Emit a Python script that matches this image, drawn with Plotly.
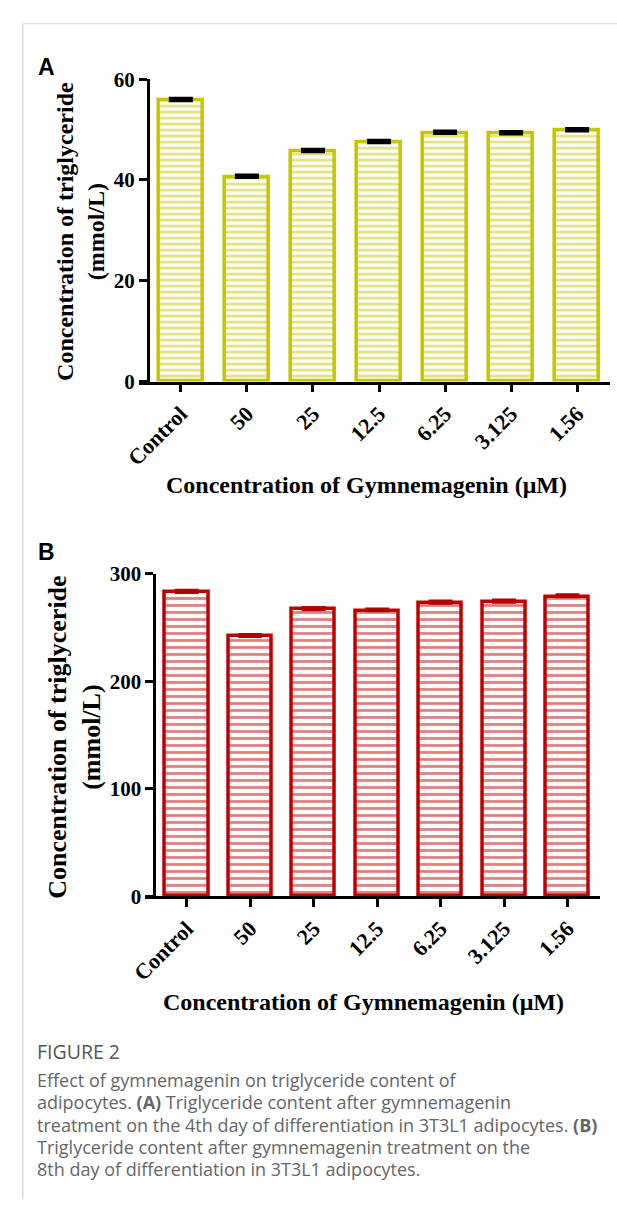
import plotly.graph_objects as go

W, H = 617, 1211

categories = ["Control", "50", "25", "12.5", "6.25", "3.125", "1.56"]
tg_day4 = [55.8, 40.6, 45.7, 47.5, 49.3, 49.2, 49.8]
tg_day4_err = [0.3, 0.3, 0.3, 0.3, 0.3, 0.3, 0.3]
tg_day8 = [283, 242, 267, 266, 273, 274, 279]
tg_day8_err = [1.5, 1.5, 1.5, 1.2, 1.5, 1.5, 1.5]

yticks_a = [0, 20, 40, 60]
yticks_b = [0, 100, 200, 300]

col_a = "#c8c400"
col_b = "#c00000"

def px(x):
    return x / W

def py(y):
    return 1 - y / H

fig = go.Figure()

xs = list(range(len(categories)))

fig.add_trace(go.Bar(
    x=xs, y=tg_day4, width=0.67,
    marker=dict(color="white", line=dict(color=col_a, width=3.5),
                pattern=dict(shape="-", fgcolor=col_a, bgcolor="white", size=6, solidity=0.45)),
    error_y=dict(type="data", array=tg_day4_err, arrayminus=[0]*7, symmetric=False,
                 color="black", thickness=4, width=12),
    xaxis="x", yaxis="y", showlegend=False))

fig.add_trace(go.Bar(
    x=xs, y=tg_day8, width=0.68,
    marker=dict(color="white", line=dict(color=col_b, width=3.5),
                pattern=dict(shape="-", fgcolor=col_b, bgcolor="white", size=7, solidity=0.4)),
    error_y=dict(type="data", array=tg_day8_err, arrayminus=[0]*7, symmetric=False,
                 color="#b00000", thickness=3.5, width=12),
    xaxis="x2", yaxis="y2", showlegend=False))

tickfont = dict(family="Liberation Serif", size=21, color="black", weight="bold")
xtickfont = dict(family="Liberation Serif", size=22, color="black", weight="bold")

axis_common = dict(showline=True, linecolor="black", linewidth=2.5, ticks="outside",
                   ticklen=8, tickwidth=2.5, tickcolor="black", showgrid=False, zeroline=False)

fig.update_layout(
    width=W, height=H, margin=dict(l=0, r=0, t=0, b=0),
    paper_bgcolor="white", plot_bgcolor="rgba(0,0,0,0)",
    bargap=0,
    xaxis=dict(domain=[px(127), px(610)], range=[-0.635, 6.5], anchor="y",
               tickvals=xs, ticktext=categories, tickangle=-45, tickfont=xtickfont, **axis_common),
    yaxis=dict(domain=[py(377), py(68.5)], range=[0, 60], anchor="free", position=px(136),
               tickvals=yticks_a, tickfont=tickfont, **axis_common),
    xaxis2=dict(domain=[px(133), px(600)], range=[-0.661, 6.518], anchor="y2",
                tickvals=xs, ticktext=categories, tickangle=-45, tickfont=xtickfont, **axis_common),
    yaxis2=dict(domain=[py(902.3), py(573.3)], range=[0, 300], anchor="free", position=px(142.7),
                tickvals=yticks_b, tickfont=tickfont, **axis_common),
)

ann = []
ann.append(dict(x=px(22), y=py(56), xref="paper", yref="paper", xanchor="left", yanchor="middle",
                text="<b>A</b>", showarrow=False, font=dict(family="Liberation Sans", size=23, color="black")))
ann.append(dict(x=px(22), y=py(551), xref="paper", yref="paper", xanchor="left", yanchor="middle",
                text="<b>B</b>", showarrow=False, font=dict(family="Liberation Sans", size=23, color="black")))
ann.append(dict(x=px(67), y=py(224), xref="paper", yref="paper", xanchor="center", yanchor="middle",
                text="<b>Concentration of triglyceride<br>(mmol/L)</b>", textangle=-90, showarrow=False,
                font=dict(family="Liberation Serif", size=24, color="black")))
ann.append(dict(x=px(61), y=py(740), xref="paper", yref="paper", xanchor="center", yanchor="middle",
                text="<b>Concentration of triglyceride<br>(mmol/L)</b>", textangle=-90, showarrow=False,
                font=dict(family="Liberation Serif", size=26, color="black")))
ann.append(dict(x=px(360), y=py(483), xref="paper", yref="paper", xanchor="center", yanchor="middle",
                text="<b>Concentration of Gymnemagenin (μM)</b>", showarrow=False,
                font=dict(family="Liberation Serif", size=24, color="black")))
ann.append(dict(x=px(357), y=py(1010), xref="paper", yref="paper", xanchor="center", yanchor="middle",
                text="<b>Concentration of Gymnemagenin (μM)</b>", showarrow=False,
                font=dict(family="Liberation Serif", size=24, color="black")))

cap_font = dict(family="Open Sans", size=18, color="#666666")
ann.append(dict(x=px(21), y=py(1061), xref="paper", yref="paper", xanchor="left", yanchor="middle",
                text="FIGURE 2", showarrow=False, font=dict(family="Open Sans", size=19.5, color="#555555")))
cap_lines = [
    "Effect of gymnemagenin on triglyceride content of",
    "adipocytes. <b>(A)</b> Triglyceride content after gymnemagenin",
    "treatment on the 4th day of differentiation in 3T3L1 adipocytes. <b>(B)</b>",
    "Triglyceride content after gymnemagenin treatment on the",
    "8th day of differentiation in 3T3L1 adipocytes.",
]
for i, line in enumerate(cap_lines):
    ann.append(dict(x=px(21), y=py(1090 + 22.5 * i), xref="paper", yref="paper", xanchor="left",
                    yanchor="middle", text=line, showarrow=False, font=cap_font))

fig.update_layout(annotations=ann)

fig.add_shape(type="line", xref="paper", yref="paper", x0=px(8), x1=1, y0=py(12), y1=py(12),
              line=dict(color="#d5d5d5", width=1.2))
fig.add_shape(type="line", xref="paper", yref="paper", x0=px(8), x1=px(8), y0=py(12), y1=0,
              line=dict(color="#d5d5d5", width=1.2))

fig.write_html("out.html")
